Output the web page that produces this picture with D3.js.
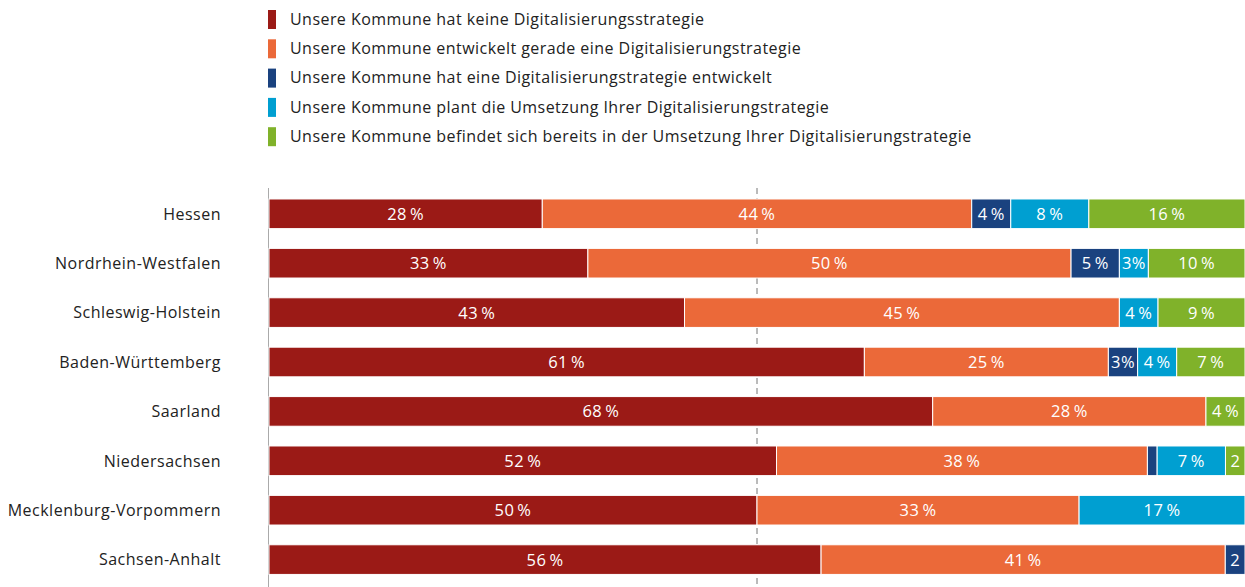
<!DOCTYPE html>
<html>
<head>
<meta charset="utf-8">
<script src="https://cdn.jsdelivr.net/npm/d3@7"></script>
<style>
  body { margin: 0; background: #fff; }
  svg { display: block; font-family: "Open Sans", "Noto Sans", sans-serif; }
</style>
</head>
<body>
<div id="chart"></div>
<script>
// données
const laender = ["Hessen", "Nordrhein-Westfalen", "Schleswig-Holstein", "Baden-Württemberg",
  "Saarland", "Niedersachsen", "Mecklenburg-Vorpommern", "Sachsen-Anhalt"];

const keine      = [28, 33, 43, 61, 68, 52, 50, 56];
const entwickelt = [44, 50, 45, 25, 28, 38, 33, 41];
const hatEine    = [4, 5, 0, 3, 0, 1, 0, 2];
const plant      = [8, 3, 4, 4, 0, 7, 17, 0];
const umsetzung  = [16, 10, 9, 7, 4, 2, 0, 0];

const legende = [
  "Unsere Kommune hat keine Digitalisierungsstrategie",
  "Unsere Kommune entwickelt gerade eine Digitalisierungstrategie",
  "Unsere Kommune hat eine Digitalisierungstrategie entwickelt",
  "Unsere Kommune plant die Umsetzung Ihrer Digitalisierungstrategie",
  "Unsere Kommune befindet sich bereits in der Umsetzung Ihrer Digitalisierungstrategie"
];
const couleurs = ["#9b1a16", "#eb6939", "#1a427f", "#009fd1", "#80b22a"];

//constantes
const w = 1245;
const h = 587;
const left = 269;

const svg = d3.select("#chart").append("svg")
  .attr("width", w)
  .attr("height", h);

const series = [keine, entwickelt, hatEine, plant, umsetzung];
const keys = ["k0", "k1", "k2", "k3", "k4"];
const rows = laender.map((l, i) => {
  const r = { land: l };
  keys.forEach((k, j) => r[k] = series[j][i]);
  return r;
});

const stack = d3.stack().keys(keys).offset(d3.stackOffsetExpand);
const stacked = stack(rows);

const xScale = d3.scaleLinear().domain([0, 1]).range([left, 1245]);
const yScale = d3.scaleBand().domain(laender).range([189.1, 584.3])
  .paddingInner(0.4).paddingOuter(0.2);

// ligne pointillée à 50 %
svg.append("line")
  .attr("x1", xScale(0.5)).attr("x2", xScale(0.5))
  .attr("y1", 188).attr("y2", h)
  .attr("stroke", "#777")
  .attr("stroke-width", 1)
  .attr("stroke-dasharray", "6,4");

// axe y
svg.append("line")
  .attr("x1", left - 0.5).attr("x2", left - 0.5)
  .attr("y1", 188).attr("y2", h)
  .attr("stroke", "#aaa")
  .attr("stroke-width", 1);

// barres
const groupes = svg.selectAll("g.serie").data(stacked).enter()
  .append("g")
  .attr("class", "serie")
  .attr("fill", (d, i) => couleurs[i]);

groupes.selectAll("rect").data(d => d).enter()
  .append("rect")
  .attr("x", d => xScale(d[0]))
  .attr("y", d => yScale(d.data.land))
  .attr("width", d => Math.max(0, xScale(d[1]) - xScale(d[0])))
  .attr("height", yScale.bandwidth())
  .attr("stroke", "#fff")
  .attr("stroke-width", d => d[1] - d[0] > 0 ? 1 : 0);

// textes dans les barres
stacked.forEach((s, i) => {
  s.forEach(d => {
    const v = d.data[s.key];
    const larg = xScale(d[1]) - xScale(d[0]);
    if (v === 0 || larg < 12) return;
    let txt = v + "\u2009%";
    if (larg < 32) txt = v + "%";
    if (larg < 20) txt = String(v);   // segment trop étroit
    svg.append("text")
      .attr("x", larg < 20 ? xScale(d[0]) + 5 : (xScale(d[0]) + xScale(d[1])) / 2)
      .attr("y", yScale(d.data.land) + yScale.bandwidth() / 2)
      .attr("dy", "0.36em")
      .attr("text-anchor", larg < 20 ? "start" : "middle")
      .attr("fill", "#fff")
      .attr("font-size", "16.5px")
      .attr("letter-spacing", "0.4px")
      .text(txt);
  });
});

// étiquettes des Länder
svg.selectAll("text.land").data(laender).enter()
  .append("text")
  .attr("class", "land")
  .attr("x", 221)
  .attr("y", d => yScale(d) + yScale.bandwidth() / 2)
  .attr("dy", "0.36em")
  .attr("text-anchor", "end")
  .attr("fill", "#222")
  .attr("font-size", "16px")
  .attr("letter-spacing", "0.5px")
  .text(d => d);

// légende
const leg = svg.selectAll("g.leg").data(legende).enter()
  .append("g")
  .attr("class", "leg")
  .attr("transform", (d, i) => "translate(268," + (19 + i * 29.3) + ")");

leg.append("rect")
  .attr("x", 0).attr("y", -9)
  .attr("width", 8).attr("height", 19)
  .attr("fill", (d, i) => couleurs[i]);

leg.append("text")
  .attr("x", 22)
  .attr("dy", "0.36em")
  .attr("fill", "#222")
  .attr("font-size", "16px")
  .attr("letter-spacing", "0.45px")
  .text(d => d);
</script>
</body>
</html>
